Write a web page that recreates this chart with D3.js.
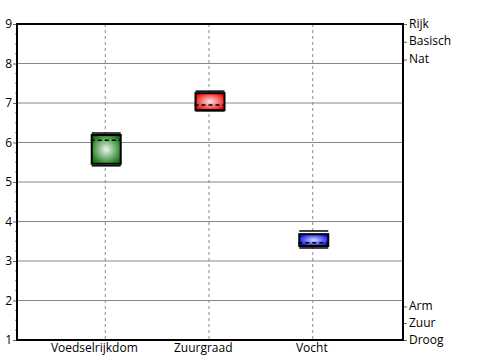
<!DOCTYPE html>
<html>
<head>
<meta charset="utf-8">
<script src="https://cdn.jsdelivr.net/npm/d3@7"></script>
<style>
  body { margin: 0; background: #fff; }
  text { font-family: "Open Sans", sans-serif; font-size: 12px; fill: #000; }
</style>
</head>
<body>
<div id="chart"></div>
<script>
// data
var categories = ['Voedselrijkdom', 'Zuurgraad', 'Vocht'];
var whiskerLow = [5.41, 6.80, 3.33];
var boxLow = [5.46, 6.82, 3.38];
var median = [6.06, 6.95, 3.46];
var boxHigh = [6.19, 7.25, 3.68];
var whiskerHigh = [6.24, 7.30, 3.76];
var boxColors = ['#0a700a', '#ee0000', '#0000e6'];
var boxCenters = ['#eaf6ea', '#ffe6e6', '#d6dcff'];
var yTicks = [1, 2, 3, 4, 5, 6, 7, 8, 9];
var rightLabels = ['Rijk', 'Basisch', 'Nat', 'Arm', 'Zuur', 'Droog'];
var rightLabelPos = [9, 8.55, 8.1, 1.85, 1.43, 1];

var width = 500, height = 360;
var margin = {top: 24, right: 97, bottom: 20, left: 17};
var w = width - margin.left - margin.right;
var h = height - margin.top - margin.bottom;

var svg = d3.select('#chart')
  .append('svg')
  .attr('width', width)
  .attr('height', height);

var defs = svg.append('defs');
categories.forEach(function (c, i) {
  var grad = defs.append('radialGradient')
    .attr('id', 'grad' + i)
    .attr('cx', '50%').attr('cy', '50%').attr('r', '60%');
  grad.append('stop').attr('offset', '0%').attr('stop-color', boxCenters[i]);
  grad.append('stop').attr('offset', '100%').attr('stop-color', boxColors[i]);
});

var g = svg.append('g')
  .attr('transform', 'translate(' + margin.left + ',' + margin.top + ')');

var x = d3.scalePoint().domain(categories).range([0, w]).padding(0.86);
var y = d3.scaleLinear().domain([1, 9]).range([h, 0]);

// horizontal grid
g.selectAll('.hgrid')
  .data(yTicks.slice(1, -1))
  .enter().append('line')
  .attr('class', 'hgrid')
  .attr('x1', 0).attr('x2', w)
  .attr('y1', function (d) { return y(d); })
  .attr('y2', function (d) { return y(d); })
  .style('stroke', '#888')
  .style('stroke-width', 1);

// vertical grid
g.selectAll('.vgrid')
  .data(categories)
  .enter().append('line')
  .attr('class', 'vgrid')
  .attr('x1', function (d) { return x(d) - 1; })
  .attr('x2', function (d) { return x(d) - 1; })
  .attr('y1', 0).attr('y2', h)
  .style('stroke', '#888')
  .style('stroke-dasharray', '3,3')
  .style('stroke-width', 1);

// left axis
var yAxis = d3.axisLeft(y).tickValues(yTicks).tickSize(4).tickFormat(d3.format('d'));
var ya = g.append('g').call(yAxis);
ya.select('.domain').remove();
ya.selectAll('line').style('stroke', '#666');
ya.selectAll('text').attr('x', -5).style('font-size', '12px');

// minor ticks
var minor = d3.range(1, 9.01, 0.25).filter(function (d) { return d % 1 !== 0; });
g.selectAll('.minor')
  .data(minor)
  .enter().append('line')
  .attr('class', 'minor')
  .attr('x1', -2).attr('x2', 0)
  .attr('y1', function (d) { return y(d); })
  .attr('y2', function (d) { return y(d); })
  .style('stroke', '#888');

// right labels
var yr = d3.axisRight(y).tickValues(rightLabelPos).tickSize(4)
  .tickFormat(function (d, i) { return rightLabels[i]; });
var yra = g.append('g').attr('transform', 'translate(' + w + ',0)').call(yr);
yra.select('.domain').remove();
yra.selectAll('line').style('stroke', '#666');
yra.selectAll('text').attr('x', 6).attr('dy', '0.25em').style('font-size', '12px');

// bottom axis labels
var xa = g.append('g').attr('transform', 'translate(0,' + h + ')')
  .call(d3.axisBottom(x).tickSize(0));
xa.select('.domain').remove();
xa.selectAll('text')
  .attr('y', 3)
  .style('font-size', '12px')
  .attr('dx', function () {
    return -0.18 * (this.getComputedTextLength() - 18);
  });

// boxes
var bw = 29;
var boxes = g.selectAll('.box')
  .data(categories)
  .enter().append('g')
  .attr('class', 'box');

boxes.append('line')
  .attr('x1', function (d) { return x(d) - bw / 2; })
  .attr('x2', function (d) { return x(d) + bw / 2; })
  .attr('y1', function (d, i) { return y(whiskerHigh[i]); })
  .attr('y2', function (d, i) { return y(whiskerHigh[i]); })
  .style('stroke', '#000').style('stroke-width', 1.5);

boxes.append('line')
  .attr('x1', function (d) { return x(d) - bw / 2; })
  .attr('x2', function (d) { return x(d) + bw / 2; })
  .attr('y1', function (d, i) { return y(whiskerLow[i]); })
  .attr('y2', function (d, i) { return y(whiskerLow[i]); })
  .style('stroke', '#000').style('stroke-width', 1.5);

boxes.append('rect')
  .attr('x', function (d) { return x(d) - bw / 2; })
  .attr('y', function (d, i) { return y(boxHigh[i]); })
  .attr('width', bw)
  .attr('height', function (d, i) { return y(boxLow[i]) - y(boxHigh[i]); })
  .attr('fill', function (d, i) { return 'url(#grad' + i + ')'; })
  .style('stroke', '#000').style('stroke-width', 2);

boxes.append('line')
  .attr('x1', function (d) { return x(d) - bw / 2 - 1; })
  .attr('x2', function (d) { return x(d) + bw / 2 - 1; })
  .attr('y1', function (d, i) { return y(median[i]); })
  .attr('y2', function (d, i) { return y(median[i]); })
  .style('stroke', '#000').style('stroke-width', 1.5)
  .style('stroke-dasharray', '4,3');

// frame
g.append('rect')
  .attr('x', 0).attr('y', 0)
  .attr('width', w).attr('height', h)
  .attr('fill', 'none')
  .style('stroke', '#000').style('stroke-width', 2);
</script>
</body>
</html>
